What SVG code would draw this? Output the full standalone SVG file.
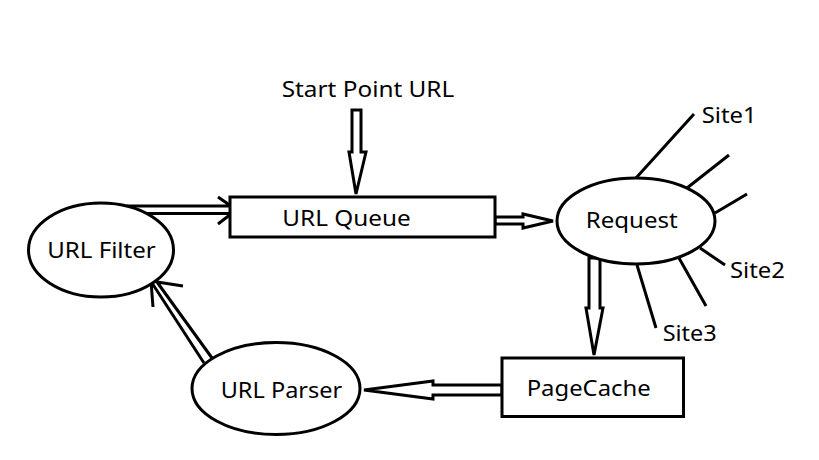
<svg xmlns="http://www.w3.org/2000/svg" width="819" height="460" viewBox="0 0 819 460">
<style>
.shape{fill:#fff;stroke:#000;stroke-width:3}
.ln{fill:none;stroke:#000;stroke-width:3}
.arr{fill:#fff;stroke:#000;stroke-width:3;stroke-linejoin:miter}
text{font-family:"Noto Sans","Open Sans","Liberation Sans",sans-serif;font-size:22px;fill:#000}
</style>
<rect width="819" height="460" fill="#fff"/>
<g id="connectors">
<polygon class="arr" points="352,110 361,110 361,152 366,152 356,194 349,152 352,152"/>
<polygon class="arr" points="495,217 523,217 523,214 553,221 523,228 523,224 495,224"/>
<polygon class="arr" points="589,258 600,258 600,308 603,308 594,355 586,308 589,308"/>
<polygon class="arr" points="502,385 433,385 433,381 364,390 433,399 433,395 502,395"/>
<path class="ln" d="M127,206 L230,206 M145,213.5 L230,213.5 M218,197 L231,206 M231,214 L218,224"/>
<path class="ln" d="M204,363 L152,283 M212,358 L157,282 M153,307 L151,281 L183,286"/>
<path class="ln" d="M636,178 L694,114 M687,188 L729,155 M715,213 L747,194 M700,248 L725,265 M679,258 L706,306 M637,265 L656,328"/>
</g>
<g id="start"><text x="281.7" y="97" textLength="172.6" lengthAdjust="spacingAndGlyphs">Start Point URL</text></g>
<g id="queue"><rect class="shape" x="230" y="197" width="265" height="40"/><text x="282.3" y="226" textLength="128.4" lengthAdjust="spacingAndGlyphs">URL Queue</text></g>
<g id="request"><ellipse class="shape" cx="636" cy="221" rx="79" ry="43"/><text x="585.7" y="228" textLength="92" lengthAdjust="spacingAndGlyphs">Request</text></g>
<g id="filter"><ellipse class="shape" cx="101" cy="250" rx="72.5" ry="47"/><text x="47.3" y="258" textLength="108.4" lengthAdjust="spacingAndGlyphs">URL Filter</text></g>
<g id="parser"><ellipse class="shape" cx="276" cy="388.5" rx="84" ry="46"/><text x="220.7" y="398" textLength="121.6" lengthAdjust="spacingAndGlyphs">URL Parser</text></g>
<g id="pagecache"><rect class="shape" x="502" y="358" width="181.5" height="58.5"/><text x="526.7" y="396" textLength="124" lengthAdjust="spacingAndGlyphs">PageCache</text></g>
<g id="site1"><text x="701.7" y="123" textLength="55" lengthAdjust="spacingAndGlyphs">Site1</text></g>
<g id="site2"><text x="730" y="278" textLength="55" lengthAdjust="spacingAndGlyphs">Site2</text></g>
<g id="site3"><text x="662.7" y="341" textLength="54" lengthAdjust="spacingAndGlyphs">Site3</text></g>
</svg>
